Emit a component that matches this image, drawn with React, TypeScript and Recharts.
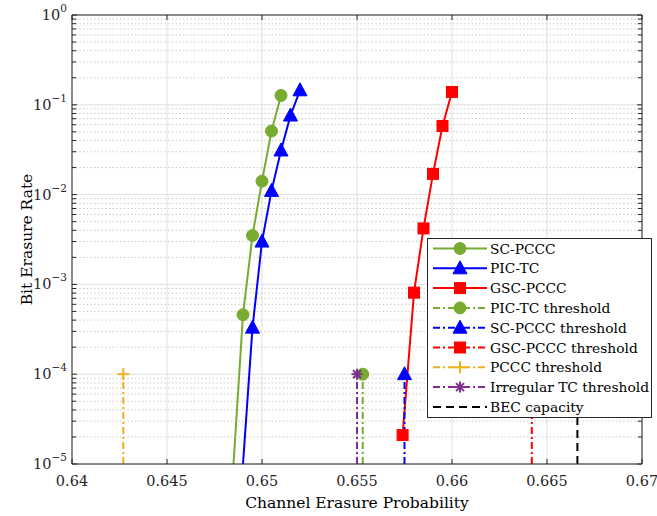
import React from "react";
import { ComposedChart, Line, XAxis, YAxis, CartesianGrid, ReferenceLine, Legend } from "recharts";

// axis ticks
const xTicks = [0.64, 0.645, 0.65, 0.655, 0.66, 0.665, 0.67];
const yTicks = [1e-5, 1e-4, 1e-3, 1e-2, 1e-1, 1];
const yExponents = ["−5", "−4", "−3", "−2", "−1", "0"];
const minorMultipliers = [2, 3, 4, 5, 6, 7, 8, 9];

// simulated curves (hide = line continues below the axis, no marker)
const scPccc = [
  { x: 0.6485, y: 1e-5, hide: true },
  { x: 0.649, y: 4.6e-4 },
  { x: 0.6495, y: 3.5e-3 },
  { x: 0.65, y: 0.0141 },
  { x: 0.6505, y: 0.051 },
  { x: 0.651, y: 0.127 },
];
const picTc = [
  { x: 0.649, y: 1e-5, hide: true },
  { x: 0.6495, y: 3.3e-4 },
  { x: 0.65, y: 3.0e-3 },
  { x: 0.6505, y: 0.011 },
  { x: 0.651, y: 0.031 },
  { x: 0.6515, y: 0.076 },
  { x: 0.652, y: 0.145 },
];
const gscPccc = [
  { x: 0.6574, y: 2.1e-5 },
  { x: 0.658, y: 8.1e-4 },
  { x: 0.6585, y: 4.2e-3 },
  { x: 0.659, y: 0.017 },
  { x: 0.6595, y: 0.058 },
  { x: 0.66, y: 0.139 },
];

// thresholds (vertical lines up to 1e-4)
const picTcThreshold = [{ x: 0.6553, y: 1e-5, hide: true }, { x: 0.6553, y: 1e-4 }];
const scPcccThreshold = [{ x: 0.6575, y: 1e-5, hide: true }, { x: 0.6575, y: 1e-4 }];
const gscPcccThreshold = [{ x: 0.6642, y: 1e-5, hide: true }, { x: 0.6642, y: 1e-4 }];
const pcccThreshold = [{ x: 0.6427, y: 1e-5, hide: true }, { x: 0.6427, y: 1e-4 }];
const irregularThreshold = [{ x: 0.655, y: 1e-5, hide: true }, { x: 0.655, y: 1e-4 }];
const becCapacity = [{ x: 0.6666, y: 1e-5, hide: true }, { x: 0.6666, y: 1e-4, hide: true }];

const GREEN = "#77AC30";
const BLUE = "#0000FF";
const RED = "#FF0000";
const ORANGE = "#EDB120";
const PURPLE = "#7E2F8E";
const AXIS = "#262626";
const FONT = "DejaVu Serif";
const DASHDOT = "7 3 2 3";

type Shape = "circle" | "triangle" | "square" | "plus" | "asterisk" | "none";

function Marker({ shape, cx, cy, color }: { shape: Shape; cx: number; cy: number; color: string }) {
  if (shape === "circle") return <circle cx={cx} cy={cy} r={6} fill={color} stroke={color} />;
  if (shape === "triangle")
    return (
      <polygon
        points={`${cx},${cy - 7.5} ${cx - 7},${cy + 5.5} ${cx + 7},${cy + 5.5}`}
        fill={color}
        stroke={color}
      />
    );
  if (shape === "square")
    return <rect x={cx - 5.5} y={cy - 5.5} width={11} height={11} fill={color} stroke={color} />;
  if (shape === "plus")
    return (
      <g stroke={color} strokeWidth={2}>
        <line x1={cx - 6} y1={cy} x2={cx + 6} y2={cy} />
        <line x1={cx} y1={cy - 6} x2={cx} y2={cy + 6} />
      </g>
    );
  if (shape === "asterisk")
    return (
      <g stroke={color} strokeWidth={2}>
        <line x1={cx - 5.5} y1={cy} x2={cx + 5.5} y2={cy} />
        <line x1={cx} y1={cy - 5.5} x2={cx} y2={cy + 5.5} />
        <line x1={cx - 4} y1={cy - 4} x2={cx + 4} y2={cy + 4} />
        <line x1={cx - 4} y1={cy + 4} x2={cx + 4} y2={cy - 4} />
      </g>
    );
  return null;
}

const makeDot = (shape: Shape, color: string) => (props: any) => {
  const { cx, cy, payload, index } = props;
  if (payload?.hide || cx == null || cy == null) return <g key={`d${index}`} />;
  return (
    <g key={`d${index}`}>
      <Marker shape={shape} cx={cx} cy={cy} color={color} />
    </g>
  );
};

const legendItems: { name: string; color: string; dash?: string; shape: Shape }[] = [
  { name: "SC-PCCC", color: GREEN, shape: "circle" },
  { name: "PIC-TC", color: BLUE, shape: "triangle" },
  { name: "GSC-PCCC", color: RED, shape: "square" },
  { name: "PIC-TC threshold", color: GREEN, dash: DASHDOT, shape: "circle" },
  { name: "SC-PCCC threshold", color: BLUE, dash: DASHDOT, shape: "triangle" },
  { name: "GSC-PCCC threshold", color: RED, dash: DASHDOT, shape: "square" },
  { name: "PCCC threshold", color: ORANGE, dash: DASHDOT, shape: "plus" },
  { name: "Irregular TC threshold", color: PURPLE, dash: DASHDOT, shape: "asterisk" },
  { name: "BEC capacity", color: "#000000", dash: "8 5", shape: "none" },
];

function LegendBox() {
  return (
    <div style={{ background: "#fff", border: `1px solid ${AXIS}`, width: 225, height: 180, boxSizing: "border-box" }}>
      <svg width={223} height={178} style={{ display: "block" }}>
        {legendItems.map((it, i) => {
          const y = 9.5 + i * 19.8;
          return (
            <g key={it.name}>
              <line x1={5} y1={y} x2={59} y2={y} stroke={it.color} strokeWidth={2} strokeDasharray={it.dash} />
              <Marker shape={it.shape} cx={32} cy={y} color={it.color} />
              <text x={62} y={y + 5} fontFamily={FONT} fontSize={13.8} fill="#000">
                {it.name}
              </text>
            </g>
          );
        })}
      </svg>
    </div>
  );
}

function YTick(props: any) {
  const { x, y, payload } = props;
  const i = yTicks.indexOf(payload.value);
  return (
    <text x={x} y={y + 5} textAnchor="end" fontFamily={FONT} fontSize={14.5} fill="#262626">
      10
      <tspan dy={-8} fontSize={10.5}>
        {yExponents[i]}
      </tspan>
    </text>
  );
}

function XTick(props: any) {
  const { x, y, payload } = props;
  const label = String(Number(payload.value.toFixed(3)));
  return (
    <text x={x} y={y + 22} textAnchor="middle" fontFamily={FONT} fontSize={14.5} fill="#262626">
      {label}
    </text>
  );
}

const minorY = yTicks.slice(0, 5).flatMap((d) => minorMultipliers.map((m) => d * m));
const majorTickLenX = 0.00026; // ~5px in data units
const minorTickLenX = 0.00022;
const tickLenY = Math.pow(10, 5 / 90);

export default function App() {
  return (
    <div style={{ width: 657, height: 516, position: "relative", background: "#fff" }}>
      <style>{"html,body{margin:0;padding:0;overflow:hidden;}"}</style>
      <ComposedChart width={657} height={516} margin={{ top: 15, right: 15, bottom: 0, left: 10 }}>
        <CartesianGrid stroke="#e0e0e0" strokeWidth={1} />
        {minorY.map((v) => (
          <ReferenceLine key={`mg${v}`} y={v} stroke="#c4c4c4" strokeDasharray="1.3 2.4" strokeWidth={1} />
        ))}
        <XAxis
          type="number"
          dataKey="x"
          domain={[0.64, 0.67]}
          ticks={xTicks}
          interval={0}
          allowDataOverflow
          height={52}
          tickSize={0}
          tickMargin={0}
          axisLine={{ stroke: AXIS }}
          tick={<XTick />}
          label={{
            content: (p: any) => {
              const vb = p.viewBox || {};
              const cx = (vb.x ?? 72) + (vb.width ?? 571) / 2;
              return (
                <text x={cx} y={508} textAnchor="middle" fontFamily={FONT} fontSize={15.5} fill="#000">
                  Channel Erasure Probability
                </text>
              );
            },
          }}
        />
        <YAxis
          scale="log"
          domain={[1e-5, 1]}
          ticks={yTicks}
          interval={0}
          allowDataOverflow
          width={62}
          tickSize={0}
          tickMargin={5}
          axisLine={{ stroke: AXIS }}
          tick={<YTick />}
          label={{
            content: (p: any) => {
              const vb = p.viewBox || {};
              const cx = 27;
              const cy = (vb.y ?? 15) + (vb.height ?? 450) / 2;
              return (
                <text
                  x={cx}
                  y={cy}
                  transform={`rotate(-90 ${cx} ${cy})`}
                  textAnchor="middle"
                  dominantBaseline="central"
                  fontFamily={FONT}
                  fontSize={15.5}
                  fill="#000"
                >
                  Bit Erasure Rate
                </text>
              );
            },
          }}
        />
        {/* box */}
        <ReferenceLine x={0.67} stroke={AXIS} />
        <ReferenceLine y={1} stroke={AXIS} />
        {/* inward tick marks */}
        {xTicks.map((t) => (
          <ReferenceLine key={`xb${t}`} segment={[{ x: t, y: 1e-5 }, { x: t, y: 1e-5 * tickLenY }]} stroke={AXIS} />
        ))}
        {xTicks.map((t) => (
          <ReferenceLine key={`xt${t}`} segment={[{ x: t, y: 1 }, { x: t, y: 1 / tickLenY }]} stroke={AXIS} />
        ))}
        {yTicks.map((t) => (
          <ReferenceLine key={`yl${t}`} segment={[{ x: 0.64, y: t }, { x: 0.64 + majorTickLenX, y: t }]} stroke={AXIS} />
        ))}
        {yTicks.map((t) => (
          <ReferenceLine key={`yr${t}`} segment={[{ x: 0.67 - majorTickLenX, y: t }, { x: 0.67, y: t }]} stroke={AXIS} />
        ))}
        {minorY.map((t) => (
          <ReferenceLine key={`ml${t}`} segment={[{ x: 0.64, y: t }, { x: 0.64 + minorTickLenX, y: t }]} stroke={AXIS} />
        ))}
        {minorY.map((t) => (
          <ReferenceLine key={`mr${t}`} segment={[{ x: 0.67 - minorTickLenX, y: t }, { x: 0.67, y: t }]} stroke={AXIS} />
        ))}

        <Line data={scPccc} dataKey="y" name="SC-PCCC" stroke={GREEN} strokeWidth={2} dot={makeDot("circle", GREEN)} isAnimationActive={false} />
        <Line data={picTc} dataKey="y" name="PIC-TC" stroke={BLUE} strokeWidth={2} dot={makeDot("triangle", BLUE)} isAnimationActive={false} />
        <Line data={gscPccc} dataKey="y" name="GSC-PCCC" stroke={RED} strokeWidth={2} dot={makeDot("square", RED)} isAnimationActive={false} />
        <Line data={picTcThreshold} dataKey="y" name="PIC-TC threshold" stroke={GREEN} strokeWidth={2} strokeDasharray={DASHDOT} dot={makeDot("circle", GREEN)} isAnimationActive={false} />
        <Line data={scPcccThreshold} dataKey="y" name="SC-PCCC threshold" stroke={BLUE} strokeWidth={2} strokeDasharray={DASHDOT} dot={makeDot("triangle", BLUE)} isAnimationActive={false} />
        <Line data={gscPcccThreshold} dataKey="y" name="GSC-PCCC threshold" stroke={RED} strokeWidth={2} strokeDasharray={DASHDOT} dot={makeDot("square", RED)} isAnimationActive={false} />
        <Line data={pcccThreshold} dataKey="y" name="PCCC threshold" stroke={ORANGE} strokeWidth={2} strokeDasharray={DASHDOT} dot={makeDot("plus", ORANGE)} isAnimationActive={false} />
        <Line data={irregularThreshold} dataKey="y" name="Irregular TC threshold" stroke={PURPLE} strokeWidth={2} strokeDasharray={DASHDOT} dot={makeDot("asterisk", PURPLE)} isAnimationActive={false} />
        <Line data={becCapacity} dataKey="y" name="BEC capacity" stroke="#000" strokeWidth={2} strokeDasharray="8 5" dot={makeDot("none", "#000")} isAnimationActive={false} />

        <Legend
          layout="horizontal"
          verticalAlign="middle"
          align="center"
          content={() => <LegendBox />}
          wrapperStyle={{ left: 427, top: 238, width: 225, height: 180, bottom: "auto", right: "auto" }}
        />
      </ComposedChart>
    </div>
  );
}
